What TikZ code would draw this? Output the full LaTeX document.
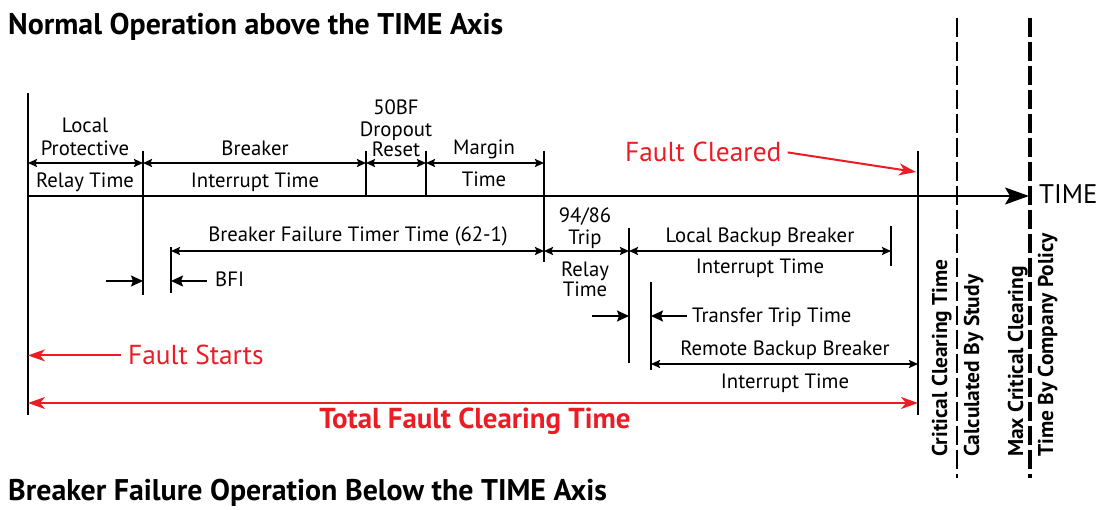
\documentclass[tikz,border=0pt]{standalone}
\usepackage{fontspec}
\setmainfont{PT Sans}
\usetikzlibrary{arrows.meta}
\definecolor{faultred}{RGB}{237,28,36}
\begin{document}
\begin{tikzpicture}[x=1bp,y=-1bp,
  tick/.style={line width=2bp},
  dim/.style={line width=1.8bp,
    {Stealth[length=9bp,width=8bp,inset=1.5bp]}-{Stealth[length=9bp,width=8bp,inset=1.5bp]}},
  pointer/.style={line width=1.8bp,-{Stealth[length=12bp,width=11bp,inset=2bp]}},
  lbl/.style={font=\fontsize{20.8}{24}\selectfont,inner sep=0pt,anchor=base},
  vlbl/.style={font=\bfseries\fontsize{21.5}{24}\selectfont,inner sep=0pt,rotate=90,anchor=base west},
  title/.style={font=\bfseries\fontsize{30}{34}\selectfont,inner sep=0pt,anchor=base west},
  redlbl/.style={font=\fontsize{27.5}{31}\selectfont,text=faultred,inner sep=0pt,anchor=base west},
  redarrow/.style={draw=faultred,line width=2bp,-{Stealth[length=17bp,width=12bp,inset=5bp]}},
  reddouble/.style={draw=faultred,line width=2bp,
    {Stealth[length=17bp,width=12bp,inset=5bp]}-{Stealth[length=17bp,width=12bp,inset=5bp]}},
  limit/.style={dash pattern=on 19bp off 5bp}]

\useasboundingbox (0,0) rectangle (1102,510);

% titles
\node[title] (top) at (8,35) {Normal Operation above the TIME Axis};
\node[title] (bot) at (8,500) {Breaker Failure Operation Below the TIME Axis};

% rows of the dimension arrows
\coordinate (r1) at (0,163);
\coordinate (r2) at (0,251);
\coordinate (r5) at (0,364);
\coordinate (r6) at (0,403);

% event ticks (top and bottom ends)
\coordinate (t0) at (28,93);   \coordinate (t0b) at (28,415);
\coordinate (t1) at (143,151); \coordinate (t1b) at (143,295);
\coordinate (t2) at (366,151); \coordinate (t2b) at (366,196);
\coordinate (t3) at (426,151); \coordinate (t3b) at (426,196);
\coordinate (t4) at (544,151); \coordinate (t4b) at (544,262);
\coordinate (t5) at (629,228); \coordinate (t5b) at (629,363);
\coordinate (t6) at (651,282); \coordinate (t6b) at (651,370);
\coordinate (t7) at (891,226); \coordinate (t7b) at (891,266);
\coordinate (t8) at (918,151); \coordinate (t8b) at (918,415);
\coordinate (tb) at (171,247); \coordinate (tbb) at (171,293);

\foreach \t in {t0,t1,t2,t3,t4,t5,t6,t7,t8,tb}
  \draw[tick] (\t) -- (\t b);

% limit lines
\coordinate (d1) at (957,18);  \coordinate (d1b) at (957,478);
\coordinate (d2) at (1030,18); \coordinate (d2b) at (1030,478);
\draw[limit,line width=1.8bp] (d1) -- (d1b);
\draw[limit,line width=4bp] (d2) -- (d2b);

% time axis
\coordinate (ax0) at (28,196);
\coordinate (ax1) at (1029,196);
\draw[line width=2bp,-{Stealth[length=24bp,width=17bp,inset=5bp]}] (ax0) -- (ax1);
\node[font=\fontsize{27}{30}\selectfont,inner sep=0pt,anchor=base west] (time) at (1039,204) {TIME};

% normal operation, above the axis
\draw[dim] (t0 |- r1) -- (t1 |- r1);
\draw[dim] (t1 |- r1) -- (t2 |- r1);
\draw[dim] (t2 |- r1) -- (t3 |- r1);
\draw[dim] (t3 |- r1) -- (t4 |- r1);
\node[lbl] (lp1) at (85,133) {Local};
\node[lbl] (lp2) at (85,156) {Protective};
\node[lbl] (lp3) at (85,188) {Relay Time};
\node[lbl] (bi1) at (255,156) {Breaker};
\node[lbl] (bi2) at (255,188) {Interrupt Time};
\node[lbl] (dr1) at (396,115) {50BF};
\node[lbl] (dr2) at (396,137) {Dropout};
\node[lbl] (dr3) at (396,157) {Reset};
\node[lbl] (mt1) at (484,155) {Margin};
\node[lbl] (mt2) at (484,187) {Time};

% breaker failure operation, below the axis
\draw[dim] (tb |- r2) -- (t4 |- r2);
\draw[dim] (t4 |- r2) -- (t5 |- r2);
\draw[dim] (t5 |- r2) -- (t7 |- r2);
\draw[dim] (t6 |- r5) -- (t8 |- r5);
\node[lbl] (bft) at (358,242) {Breaker Failure Timer Time (62-1)};
\node[lbl] (tr1) at (585,223) {94/86};
\node[lbl] (tr2) at (585,245) {Trip};
\node[lbl] (tr3) at (585,277) {Relay};
\node[lbl] (tr4) at (585,297) {Time};
\node[lbl] (lb1) at (760,243) {Local Backup Breaker};
\node[lbl] (lb2) at (760,274) {Interrupt Time};
\node[lbl] (rb1) at (785,356) {Remote Backup Breaker};
\node[lbl] (rb2) at (785,388) {Interrupt Time};

% initiation pointers
\coordinate (p1) at (106,281);
\coordinate (p2) at (207,281);
\coordinate (p3) at (592,316);
\coordinate (p4) at (687,316);
\draw[pointer] (p1) -- (t1 |- p1);
\draw[pointer] (p2) -- (tb |- p2);
\draw[pointer] (p3) -- (t5 |- p3);
\draw[pointer] (p4) -- (t6 |- p4);
\node[lbl,anchor=base west] (bfi) at (215,287) {BFI};
\node[lbl,anchor=base west] (ttt) at (692,323) {Transfer Trip Time};

% clearing-time limits
\node[vlbl] (cc1) at (947,457) {Critical Clearing Time};
\node[vlbl] (cc2) at (979,457) {Calculated By Study};
\node[vlbl] (mc1) at (1023,457) {Max Critical Clearing};
\node[vlbl] (mc2) at (1053,457) {Time By Company Policy};

% fault markers
\node[redlbl] (fcl) at (625,162) {Fault Cleared};
\coordinate (fc) at (916,172);
\draw[redarrow] ([xshift=6bp]fcl.east) -- (fc);
\node[redlbl] (fst) at (128,365) {Fault Starts};
\draw[redarrow] ([xshift=-7bp]fst.west) -- (t0 |- fst.west);
\draw[reddouble] (t0 |- r6) -- (t8 |- r6);
\node[font=\bfseries\fontsize{29}{33}\selectfont,text=faultred,inner sep=0pt,anchor=base]
  (tfc) at (475,428) {Total Fault Clearing Time};
\end{tikzpicture}
\end{document}
